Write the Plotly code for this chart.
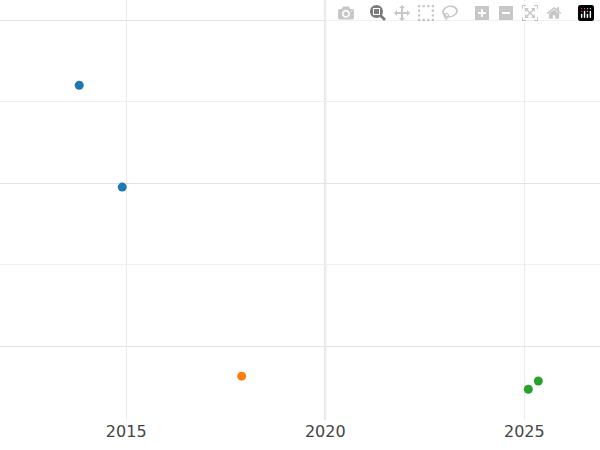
import plotly.graph_objects as go

blue_x = [2013.82, 2014.9]
blue_y = [16.0, 9.75]
orange_x = [2017.9]
orange_y = [-1.85]
green_x = [2025.1, 2025.35]
green_y = [-2.65, -2.15]

fig = go.Figure()
for xs, ys, c in [(blue_x, blue_y, "#1f77b4"), (orange_x, orange_y, "#ff7f0e"), (green_x, green_y, "#2ca02c")]:
    fig.add_trace(go.Scatter(x=xs, y=ys, mode="markers", marker=dict(color=c, size=9)))

fig.update_layout(
    width=600, height=450, showlegend=False,
    paper_bgcolor="white", plot_bgcolor="white",
    margin=dict(l=0, r=0, t=0, b=30),
    font=dict(family="DejaVu Sans", size=16, color="#444"),
)
fig.update_xaxes(range=[2011.83, 2026.9], tickvals=[2015, 2020, 2025], ticktext=["2015", "2020", "2025"],
                 gridcolor="#ebebeb", showline=False, zeroline=False, ticks="")
fig.update_yaxes(range=[-4.54, 21.23], dtick=10, tick0=0, showticklabels=False, gridcolor="#e3e3e3",
                 minor=dict(dtick=5, showgrid=True, gridcolor="#f0f0f0"), zeroline=False)
# 2020 gridline is a bit stronger in the reference
fig.add_vline(x=2020, line_color="#e0e0e0", line_width=2, layer="below")
fig.write_html("out.html", post_script="document.body.style.margin='0';")
